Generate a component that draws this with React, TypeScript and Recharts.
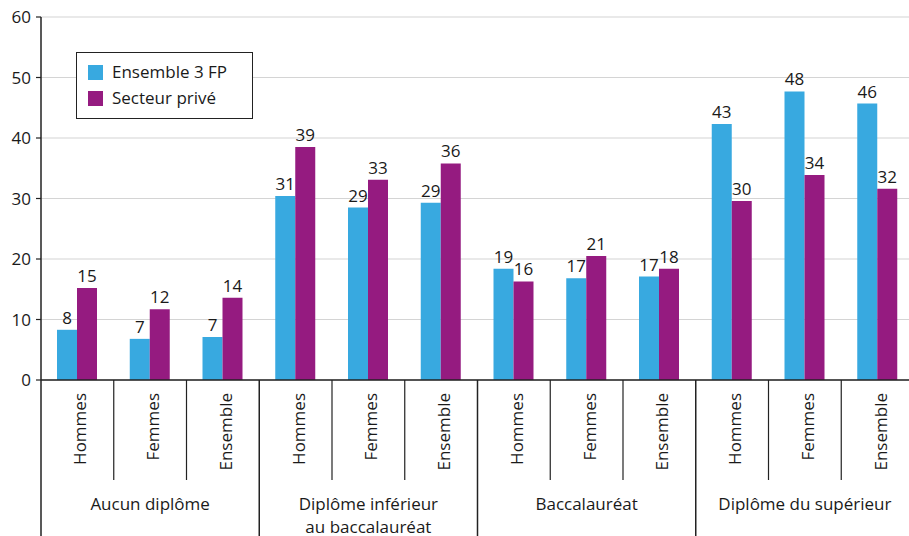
import React from "react";
import {
  BarChart,
  Bar,
  XAxis,
  YAxis,
  CartesianGrid,
  Legend,
  LabelList,
} from "recharts";

// ── Data ──────────────────────────────────────────────────────────────────────

const GROUPS = [
  ["Aucun diplôme"],
  ["Diplôme inférieur", "au baccalauréat"],
  ["Baccalauréat"],
  ["Diplôme du supérieur"],
];
const SUBS = ["Hommes", "Femmes", "Ensemble"];

// bar heights, labels as printed
const FP_VALUES = [8.3, 6.8, 7.1, 30.4, 28.5, 29.3, 18.4, 16.8, 17.1, 42.3, 47.7, 45.7];
const PRIVE_VALUES = [15.2, 11.7, 13.6, 38.5, 33.1, 35.8, 16.3, 20.5, 18.4, 29.6, 33.9, 31.6];
const FP_LABELS = [8, 7, 7, 31, 29, 29, 19, 17, 17, 43, 48, 46];
const PRIVE_LABELS = [15, 12, 14, 39, 33, 36, 16, 21, 18, 30, 34, 32];

const Y_TICKS = [0, 10, 20, 30, 40, 50, 60];

const SERIES = [
  { key: "fp", name: "Ensemble 3 FP", color: "#38A9E0" },
  { key: "prive", name: "Secteur privé", color: "#951B80" },
];

const data = FP_VALUES.map((v, i) => ({
  key: `${i}`,
  group: Math.floor(i / 3),
  sub: SUBS[i % 3],
  fp: v,
  prive: PRIVE_VALUES[i],
  fpLabel: FP_LABELS[i],
  priveLabel: PRIVE_LABELS[i],
}));

// ── Styling ───────────────────────────────────────────────────────────────────

const INK = "#1a1a1a";
const FONT = 17;
const CHART_W = 914;
const CHART_H = 536;

// ── Two-level category tick ──────────────────────────────────────────────────

function CategoryTick(props: any) {
  const { x, y, payload, index } = props;
  const i: number = payload?.index ?? index;
  const half: number = payload?.offset || (CHART_W - 41) / 24;
  const left = x - half;
  const groupStart = i % 3 === 0;
  const lines = GROUPS[Math.floor(i / 3)];

  return (
    <g>
      <line
        x1={left}
        x2={left}
        y1={y}
        y2={groupStart ? CHART_H : y + 100}
        stroke="#222"
        strokeWidth={groupStart ? 1.5 : 1.2}
      />
      {i === data.length - 1 && (
        <line x1={x + half} x2={x + half} y1={y} y2={CHART_H} stroke="#222" strokeWidth={1.5} />
      )}
      <text
        transform={`translate(${x + 9},${y + 13}) rotate(-90)`}
        textAnchor="end"
        fontSize={FONT}
        fill={INK}
      >
        {SUBS[i % 3]}
      </text>
      {i % 3 === 1 &&
        lines.map((t, k) => (
          <text key={k} x={x} y={y + 130 + k * 23} textAnchor="middle" fontSize={FONT} fill={INK}>
            {t}
          </text>
        ))}
    </g>
  );
}

// ── Boxed legend ──────────────────────────────────────────────────────────────

function BoxLegend() {
  return (
    <div
      style={{
        border: "1.5px solid #222",
        background: "#fff",
        padding: "6px 16px 7px 11px",
        width: 148,
      }}
    >
      {SERIES.map((s) => (
        <div key={s.key} style={{ display: "flex", alignItems: "center", height: 26 }}>
          <span style={{ width: 15, height: 15, background: s.color, marginRight: 9 }} />
          <span style={{ fontSize: FONT, color: INK, lineHeight: "20px" }}>{s.name}</span>
        </div>
      ))}
    </div>
  );
}

// ── Main export ───────────────────────────────────────────────────────────────

export default function App() {
  return (
    <div
      style={{
        position: "absolute",
        left: 0,
        top: 0,
        width: 909,
        height: 536,
        overflow: "hidden",
        background: "#fff",
        fontFamily: "'Open Sans', sans-serif",
      }}
    >
      <BarChart
        width={CHART_W}
        height={CHART_H}
        data={data}
        barSize={20}
        barGap={0}
        margin={{ top: 17, right: 0, left: 0, bottom: 0 }}
      >
        <CartesianGrid vertical={false} stroke="#d4d4d4" strokeWidth={1.2} />
        <XAxis
          dataKey="key"
          height={156}
          interval={0}
          tickSize={0}
          tickMargin={0}
          tickLine={false}
          axisLine={{ stroke: "#222", strokeWidth: 1.5 }}
          tick={<CategoryTick />}
        />
        <YAxis
          width={41}
          domain={[0, 60]}
          ticks={Y_TICKS}
          interval={0}
          tickSize={5}
          tickMargin={5}
          axisLine={{ stroke: "#222", strokeWidth: 1.5 }}
          tickLine={{ stroke: "#222", strokeWidth: 1.2 }}
          tick={{ fontSize: FONT, fill: INK }}
        />
        <Legend
          layout="vertical"
          align="center"
          verticalAlign="middle"
          wrapperStyle={{ left: 76, top: 52, width: "auto", height: "auto" }}
          content={() => <BoxLegend />}
        />
        <Bar dataKey="fp" name={SERIES[0].name} fill={SERIES[0].color} isAnimationActive={false}>
          <LabelList dataKey="fpLabel" position="top" offset={6} fontSize={FONT} fill={INK} />
        </Bar>
        <Bar dataKey="prive" name={SERIES[1].name} fill={SERIES[1].color} isAnimationActive={false}>
          <LabelList dataKey="priveLabel" position="top" offset={6} fontSize={FONT} fill={INK} />
        </Bar>
      </BarChart>
    </div>
  );
}
